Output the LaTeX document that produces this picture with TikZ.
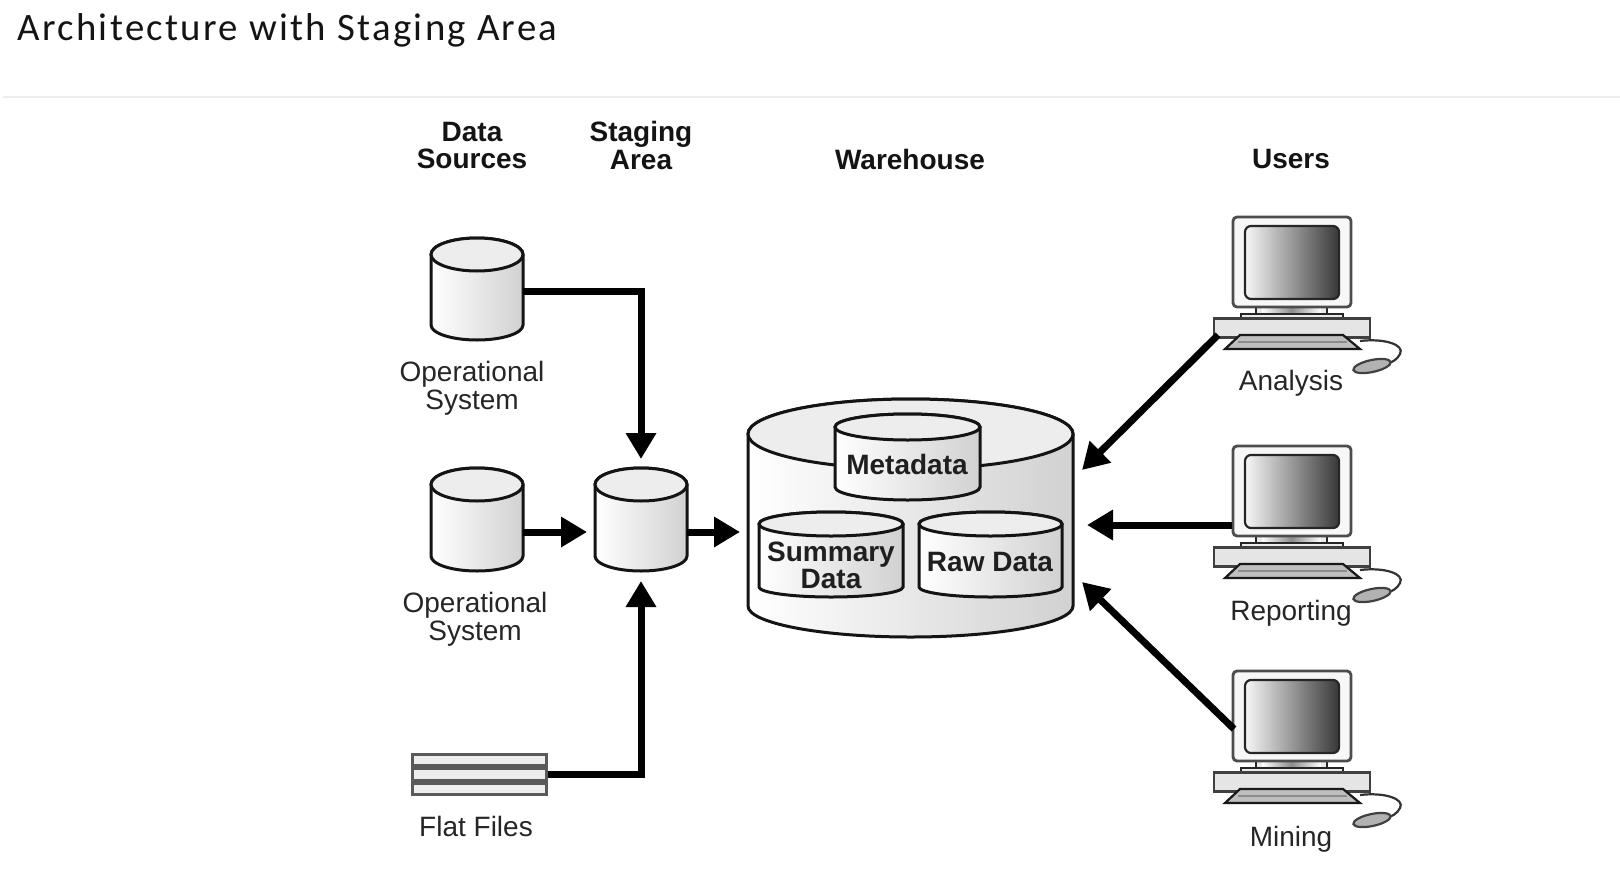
\documentclass[tikz,border=0pt]{standalone}
\usepackage{fontspec}
\setmainfont{Liberation Sans}
\newfontfamily\titlefont[LetterSpace=6]{Carlito}
\usetikzlibrary{arrows.meta,shapes.geometric,calc}
\tikzset{
  edge/.style={draw=black!92,line width=1.5pt},
  flow/.style={draw=black,line width=3.5pt,-{Triangle[length=13pt,width=14.5pt]},line join=miter},
  head/.style={font=\bfseries\fontsize{14}{13.6}\selectfont,align=center,text=black!92,inner sep=0pt},
  inner/.style={font=\bfseries\fontsize{14}{13.4}\selectfont,align=center,text=black!88,inner sep=0pt},
  lbl/.style={font=\fontsize{14}{14}\selectfont,align=center,text=black!85,inner sep=0pt},
  body/.style={edge,left color=white,right color=black!18},
  lid/.style={edge,fill=black!7},
  part/.style={draw=black!85,line width=1.1pt,fill=black!8},
  filebar/.style={draw=black!65,line width=1.5pt,fill=black!7,inner sep=0pt,minimum width=67pt,minimum height=5.6pt},
}
% \cyl{name}{x0}{x1}{ytop}{ybot}{ry top}{ry bottom}
\newcommand{\cyl}[7]{%
  \pgfmathsetmacro{\rxpt}{(#3-(#2))*0.25}%
  \pgfmathsetmacro{\rypt}{#6*0.5}%
  \pgfmathsetmacro{\rzpt}{#7*0.5}%
  \pgfmathsetmacro{\yt}{#4+#6}%
  \pgfmathsetmacro{\yb}{#5-#7}%
  \pgfmathsetmacro{\xc}{(#2+#3)/2}%
  \pgfmathsetmacro{\ym}{(#4+#5)/2}%
  \pgfmathsetmacro{\wpt}{(#3-(#2))*0.5}%
  \pgfmathsetmacro{\hpt}{(#5-(#4))*0.5}%
  \draw[body] (#2,\yt) -- (#2,\yb) arc[start angle=180,end angle=360,x radius=\rxpt pt,y radius=\rzpt pt] -- (#3,\yt) arc[start angle=0,end angle=180,x radius=\rxpt pt,y radius=\rypt pt] -- cycle;
  \draw[lid] (\xc,\yt) ellipse[x radius=\rxpt pt,y radius=\rypt pt];
  \node[inner sep=0pt,outer sep=0pt,minimum width=\wpt pt,minimum height=\hpt pt] (#1) at (\xc,\ym) {};
}
% \computer{prefix}{dy}
\newcommand{\computer}[2]{%
  \begin{scope}[shift={(0,#2)}]
    \draw[part] (1256,305) rectangle (1327,317);
    \shade[left color=white,right color=white,middle color=black!45] (1262,308) rectangle (1321,314);
    \node[draw=black!85,line width=1.1pt,fill=black!8,inner sep=0pt,minimum width=51pt,minimum height=2.5pt] (#1base) at (1292,316.5) {};
    \node[draw=black!75,line width=1.1pt,fill=black!10,inner sep=0pt,minimum width=78pt,minimum height=9.5pt] (#1box) at (1292,328) {};
    \draw[draw=black!90,line width=1.1pt,fill=black!25] (1240,335) -- (1343,335) -- (1360,349) -- (1225,349) -- cycle;
    \draw[draw=black!45,line width=1pt] (1238,342) -- (1347,342);
    \draw[draw=black!80,line width=1.1pt] (1360,341) .. controls (1385,338) and (1405,345) .. (1400,354) .. controls (1397,360) and (1392,362) .. (1387,364);
    \node[ellipse,draw=black!75,line width=1.1pt,fill=black!30,inner sep=0pt,minimum width=19pt,minimum height=6pt,rotate=12] (#1mouse) at (1372,366) {};
    \node[draw=black!70,line width=1.4pt,fill=black!3,rounded corners=2pt,inner sep=0pt,minimum width=59pt,minimum height=45pt] (#1mon) at (1292,262) {};
    \draw[draw=black!85,line width=1.1pt,rounded corners=3pt,left color=black!3,right color=black!78] (1245,226) rectangle (1339,299);
  \end{scope}
}
\begin{document}
\begin{tikzpicture}[x=0.5pt,y=-0.5pt]
\useasboundingbox (0,0) rectangle (1620,888);
\fill[white] (0,0) rectangle (1620,888);
% title
\node[anchor=west,inner sep=0pt,text=black!92,font=\titlefont\fontsize{19.4}{19.4}\selectfont] (title) at (17,30.5) {Architecture with Staging Area};
\coordinate (ruleL) at (3,97);
\coordinate (ruleR) at (1620,97);
\draw[black!7,line width=.6pt] (ruleL) -- (ruleR);
% column heads
\node[head] (hSources) at (472,145.5) {Data\\Sources};
\node[head] (hStaging) at (641,145.5) {Staging\\Area};
\node[head] (hWare) at (910,159) {Warehouse};
\node[head] (hUsers) at (1291,159) {Users};
% sources and staging
\cyl{osA}{431}{523}{238}{340}{16.5}{15}
\cyl{osB}{431}{523}{468}{571}{16.5}{15}
\cyl{stage}{595}{687}{468}{571}{16.5}{15}
\node[lbl] (lOsA) at (472,388.5) {Operational\\System};
\node[lbl] (lOsB) at (475,619) {Operational\\System};
% flat files
\node[filebar] (ffA) at (479.5,760) {};
\node[filebar] (ffB) at (479.5,774.5) {};
\node[filebar] (ffC) at (479.5,789) {};
\node[lbl] (lFlat) at (476,826) {Flat Files};
% warehouse
\cyl{ware}{748}{1073}{399}{637}{35}{31}
\cyl{meta}{835}{980}{414}{500}{13}{13}
\cyl{summ}{759}{903}{512}{597}{12}{10}
\cyl{raw}{919}{1062}{512}{597}{12}{10}
\node[inner] (tMeta) at (907,464) {Metadata};
\node[inner] (tSumm) at (831,565) {Summary\\Data};
\node[inner] (tRaw) at (990,562) {Raw Data};
% users
\computer{an}{0}
\computer{rep}{229}
\computer{min}{454}
\node[lbl] (lAn) at (1291,383.5) {Analysis};
\node[lbl] (lRep) at (1291,613) {Reporting};
\node[lbl] (lMin) at (1291,839) {Mining};
% connectors
\coordinate (lvlA) at (0,291);
\coordinate (lvlB) at (0,532);
\coordinate (lvlC) at (1000,525);
\coordinate (tipA) at (1082,470);
\coordinate (tipB) at (1087,525);
\coordinate (tipC) at (1082,582);
\coordinate (fromA) at (1218,335);
\coordinate (fromC) at (1234,729);
\draw[flow,shorten >=4.5pt] (osA.east |- lvlA) -| (stage.north);
\draw[flow,shorten >=4pt] (osB.east |- lvlB) -- (stage.west |- lvlB);
\draw[flow,shorten >=4pt] (stage.east |- lvlB) -- (ware.west |- lvlB);
\draw[flow,shorten >=5pt] (ffB.east) -| (stage.south);
\draw[flow] (fromA) -- (tipA);
\draw[flow] (repmon.west |- lvlC) -- (tipB);
\draw[flow] (fromC) -- (tipC);
\end{tikzpicture}
\end{document}
